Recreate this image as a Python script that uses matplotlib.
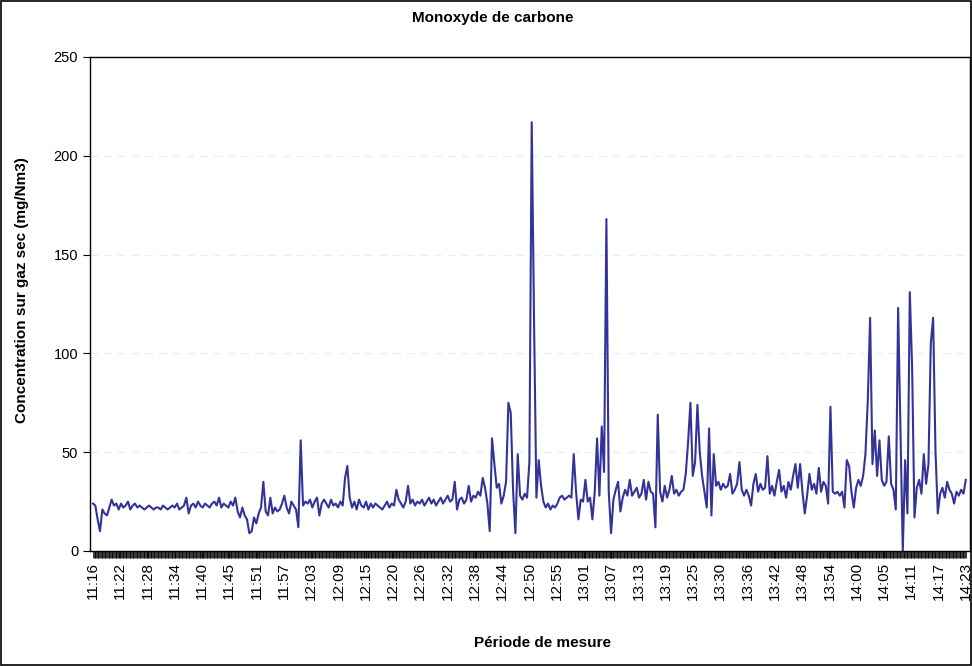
import numpy as np
import matplotlib
matplotlib.use('Agg')
import matplotlib.pyplot as plt
from matplotlib.patches import Rectangle

plt.rcParams['font.family'] = ['Liberation Sans', 'DejaVu Sans']

# one reading every 30 s, starting at 11:16
step_min = 0.5
co = [
    24, 23, 16, 10, 21, 19, 18, 22, 26, 23, 24, 21, 24, 22, 23, 25, 21, 23, 24, 22,
    23, 22, 21, 22, 23, 22, 21, 22, 22, 21, 23, 22, 21, 22, 23, 22, 24, 21, 22, 23,
    27, 19, 23, 24, 22, 25, 23, 22, 24, 23, 22, 24, 25, 23, 27, 22, 24, 23, 22, 25,
    23, 27, 20, 17, 22, 18, 16, 9, 10, 17, 14, 19, 22, 35, 20, 18, 27, 19, 22, 20,
    21, 24, 28, 22, 19, 25, 23, 21, 12, 56, 23, 25, 24, 26, 22, 25, 27, 18, 24, 26,
    24, 22, 26, 23, 24, 22, 25, 23, 37, 43, 27, 22, 25, 21, 26, 23, 22, 25, 21, 24,
    22, 24, 23, 22, 21, 23, 25, 22, 24, 23, 31, 26, 24, 22, 25, 33, 24, 26, 23, 25,
    24, 26, 23, 25, 27, 24, 26, 23, 25, 27, 24, 26, 28, 25, 26, 35, 21, 26, 27, 24,
    26, 33, 25, 28, 27, 30, 28, 37, 32, 24, 10, 57, 44, 32, 34, 24, 28, 35, 75, 70,
    31, 9, 49, 28, 26, 29, 27, 45, 217, 116, 27, 46, 33, 25, 22, 24, 21, 23, 22, 24,
    27, 28, 26, 27, 28, 27, 49, 30, 16, 26, 25, 36, 25, 27, 16, 30, 57, 28, 63, 40,
    168, 30, 9, 26, 31, 35, 20, 27, 31, 28, 36, 28, 30, 32, 27, 29, 36, 26, 35, 30,
    29, 12, 69, 30, 25, 33, 27, 31, 38, 29, 31, 28, 30, 31, 39, 55, 75, 38, 45, 74,
    50, 38, 30, 22, 62, 18, 49, 33, 35, 31, 34, 32, 33, 39, 29, 31, 34, 45, 31, 28,
    31, 28, 23, 34, 39, 30, 34, 31, 32, 48, 29, 33, 28, 35, 41, 30, 33, 27, 35, 31,
    38, 44, 32, 44, 30, 19, 28, 39, 31, 34, 29, 42, 30, 35, 33, 24, 73, 30, 29, 30,
    28, 30, 22, 46, 43, 30, 22, 32, 36, 33, 38, 49, 76, 118, 44, 61, 38, 56, 36, 33,
    35, 58, 34, 31, 21, 123, 60, 0, 46, 19, 131, 93, 17, 32, 36, 29, 49, 34, 44, 105,
    118, 51, 19, 29, 32, 27, 35, 31, 29, 24, 30, 28, 31, 29, 36,
]

time_labels = ['11:16', '11:22', '11:28', '11:34', '11:40', '11:45', '11:51', '11:57',
               '12:03', '12:09', '12:15', '12:20', '12:26', '12:32', '12:38', '12:44',
               '12:50', '12:55', '13:01', '13:07', '13:13', '13:19', '13:25', '13:30',
               '13:36', '13:42', '13:48', '13:54', '14:00', '14:05', '14:11', '14:17',
               '14:23']

t = np.arange(len(co)) * step_min
t_end = t[-1]
label_pos = np.linspace(0, t_end, len(time_labels))

fig = plt.figure(figsize=(9.72, 6.66), dpi=100)
ax = fig.add_axes([90/972, 115/666, 880/972, 494/666])

ax.plot(t, co, color='#333399', lw=1.5)

ax.set_xlim(-0.64, 187.9)
ax.set_ylim(0, 250)
ax.set_yticks(range(0, 251, 50))
ax.tick_params(axis='y', labelsize=10.5, length=5, direction='out')

# excel-style category axis: dense tick band, labels only every ~6 min
ax.set_xticks(label_pos)
ax.set_xticklabels(time_labels, rotation=90, fontsize=11)
ax.set_xticks(np.arange(0, t_end + 0.01, 1/6), minor=True)
ax.tick_params(axis='x', which='both', length=5, width=0.55, direction='out', pad=3)

for v in [50, 100, 150, 200]:
    ax.axhline(v, color='#e4eef8', lw=0.9, ls=(0, (6, 5)), zorder=0)

for s in ax.spines.values():
    s.set_color('black')
    s.set_linewidth(1)

fig.text(493/972, 1 - 18/666, 'Monoxyde de carbone', ha='center', va='center',
         fontsize=11, fontweight='bold')
fig.text(22/972, 1 - 290/666, 'Concentration sur gaz sec (mg/Nm3)', rotation=90,
         ha='center', va='center', fontsize=11, fontweight='bold')
fig.text(542/972, 1 - 643/666, 'Période de mesure', ha='center', va='center',
         fontsize=11, fontweight='bold')

# frame round the whole chart
fig.patches.append(Rectangle((0.001, 0.001), 0.998, 0.997, transform=fig.transFigure,
                             fill=False, edgecolor='black', lw=1.2))

fig.savefig('out.png', dpi=100)
